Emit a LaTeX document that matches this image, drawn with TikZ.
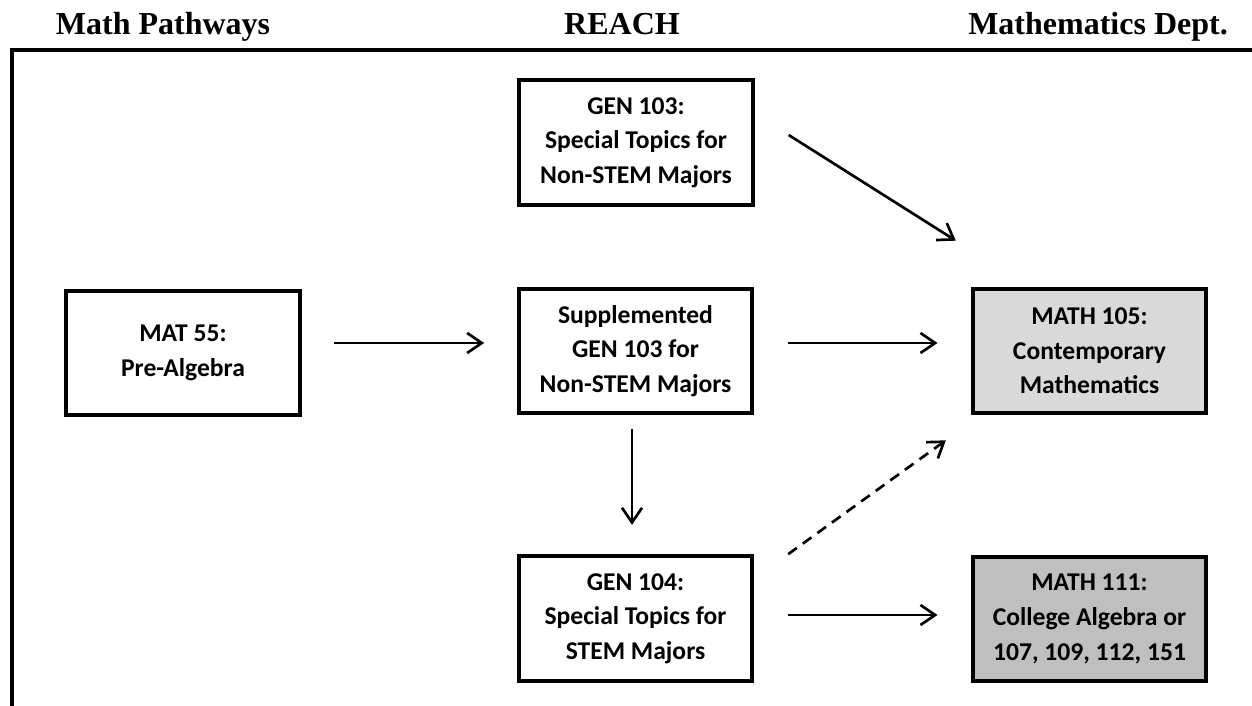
\documentclass[tikz,border=0pt]{standalone}
\usepackage{fontspec}
\setmainfont{Liberation Serif}
\newfontfamily\boxfont{Carlito}
\usetikzlibrary{arrows.meta,calc}
\begin{document}
\begin{tikzpicture}[x=0.75pt,y=-0.75pt,
  coursebox/.style={draw=black,line width=3pt,minimum width=175pt,minimum height=93.5pt,
    align=center,inner sep=0pt,font=\boxfont\bfseries\fontsize{19.2pt}{26pt}\selectfont},
  header/.style={font=\bfseries\fontsize{24pt}{26pt}\selectfont,inner sep=0pt,anchor=base},
  arr/.style={line width=2pt,-{Straight Barb[length=11pt,width=15pt,line width=2pt]}},
  frameline/.style={line width=2.6pt}
]
\useasboundingbox (0,0) rectangle (1252,706);
% headers
\node[header] (hmp) at (163,35) {Math Pathways};
\node[header] (hre) at (622,35) {REACH};
\node[header] (hmd) at (1098,35) {Mathematics Dept.};
% frame
\coordinate (fbl) at (12,706);
\coordinate (ftl) at (12,50);
\coordinate (ftr) at (1252,50);
\draw[frameline] (fbl) -- (ftl) -- (ftr);
% boxes
\node[coursebox] (m55) at (183,353) {MAT 55:\\Pre-Algebra};
\node[coursebox] (g103) at (636,142.5) {GEN 103:\\Special Topics for\\Non-STEM Majors};
\node[coursebox] (supp) at (635.5,351) {Supplemented\\GEN 103 for\\Non-STEM Majors};
\node[coursebox] (g104) at (635.5,618.5) {GEN 104:\\Special Topics for\\STEM Majors};
\node[coursebox,fill={rgb,255:red,217;green,217;blue,217}] (m105) at (1089.5,351) {MATH 105:\\Contemporary\\Mathematics};
\node[coursebox,fill={rgb,255:red,191;green,191;blue,191}] (m111) at (1089.5,619) {MATH 111:\\College Algebra or\\107, 109, 112, 151};
% connectors
\draw[arr,shorten <=24.5pt,shorten >=24.5pt] ($(m55.east)+(0,-10)$) -- ($(supp.west)+(0,-8)$);
\draw[arr,shorten <=25pt,shorten >=25pt] ($(supp.east)+(0,-8)$) -- ($(m105.west)+(0,-8)$);
\draw[arr,shorten <=25pt,shorten >=25pt] ($(g104.east)+(0,-3.5)$) -- ($(m111.west)+(0,-4)$);
\draw[arr,shorten <=10pt,shorten >=22pt] ($(supp.south)+(-3.5,0)$) -- ($(g104.north)+(-3.5,0)$);
\draw[arr] ($(g103.east)+(34,-7.5)$) -- ($(m105.north west)+(-15,-46)$);
\draw[arr,dash pattern=on 8pt off 5.5pt] ($(g104.north east)+(34,0)$) -- ($(m105.south west)+(-25,25)$);
\end{tikzpicture}
\end{document}
